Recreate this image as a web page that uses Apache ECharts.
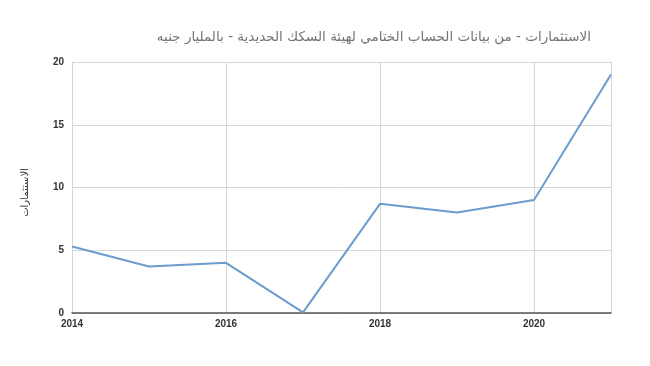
<!DOCTYPE html>
<html><head><meta charset="utf-8">
<script src="https://cdn.jsdelivr.net/npm/echarts@6/dist/echarts.min.js"></script>
<style>html,body{margin:0;padding:0;background:#fff}#c{width:650px;height:366px}</style>
</head><body><div id="c"></div>
<script>
const years = [2014, 2015, 2016, 2017, 2018, 2019, 2020, 2021];
const investments = [5.3, 3.7, 4.0, 0.05, 8.7, 8.0, 9.0, 19.0];
const titleText = 'الاستثمارات - من بيانات الحساب الختامي لهيئة السكك الحديدية - بالمليار جنيه';
const yName = 'الاستثمارات';

const chart = echarts.init(document.getElementById('c'));
chart.setOption({
  animation: false,
  title: {
    text: titleText, right: 54, top: 25,
    textStyle: {color: '#757575', fontSize: 13.5, fontWeight: 'normal', fontFamily: 'DejaVu Sans'}
  },
  grid: {left: 72, right: 39, top: 62, bottom: 53},
  xAxis: {
    type: 'value', min: 2014, max: 2021, interval: 2,
    axisLine: {show: true, lineStyle: {color: '#555', width: 1.5}},
    axisTick: {show: false},
    splitLine: {show: true, lineStyle: {color: '#d6d6d6'}},
    axisLabel: {color: '#333', fontSize: 10, fontWeight: 'bold', fontFamily: 'Liberation Sans', margin: 6,
      showMaxLabel: false, formatter: v => String(v)}
  },
  yAxis: {
    type: 'value', min: 0, max: 20, interval: 5,
    name: yName, nameLocation: 'middle', nameGap: 42, nameRotate: 90,
    nameTextStyle: {color: '#333', fontSize: 10, fontFamily: 'DejaVu Sans', padding: [0, 10, 0, 0]},
    axisLine: {show: false}, axisTick: {show: false},
    splitLine: {lineStyle: {color: '#d6d6d6'}},
    axisLabel: {color: '#333', fontSize: 10, fontWeight: 'bold', fontFamily: 'Liberation Sans', margin: 8}
  },
  series: [{
    type: 'line', data: years.map((y, i) => [y, investments[i]]),
    symbol: 'none', lineStyle: {color: '#6c9ccd', width: 2}
  }]
});
</script></body></html>
